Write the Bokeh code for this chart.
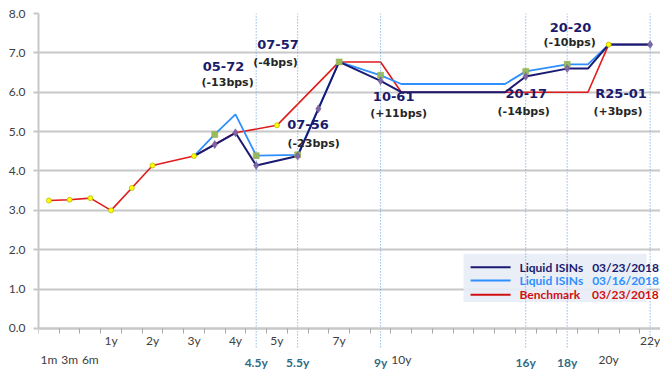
from bokeh.plotting import figure
from bokeh.models import (FixedTicker, NumeralTickFormatter, Range1d,
                          BoxAnnotation, LinearAxis)
from bokeh.core.properties import value
from bokeh.embed import file_html
from bokeh.resources import INLINE

# ---- data -------------------------------------------------------------
tenors = ["1m", "3m", "6m", "1y", "1.5y", "2y", "2.5y", "3y", "3.5y", "4y",
          "4.5y", "5y", "5.5y", "6y", "7y", "8y", "9y", "10y", "11y", "12y",
          "13y", "14y", "15y", "16y", "17y", "18y", "19y", "20y", "21y", "22y"]

benchmark_0323 = [3.25, 3.27, 3.31, 3.00, 3.57, 4.14, None, 4.38, None, 4.97,
                  None, 5.16, None, None, 6.77, None, 6.77, 6.00, None, None,
                  None, None, None, None, None, None, 6.00, 7.21, None, 7.21]
isin_0316 = [None, None, None, None, None, None, None, 4.38, 4.93, 5.44,
             4.39, None, 4.41, None, 6.77, None, 6.43, 6.21, None, None,
             None, None, 6.21, 6.53, None, 6.71, 6.71, 7.21, None, 7.21]
isin_0323 = [None, None, None, None, None, None, None, 4.38, 4.67, 4.97,
             4.14, None, 4.38, 5.58, 6.77, None, 6.29, 6.00, None, None,
             None, None, 6.00, 6.40, None, 6.60, 6.60, 7.21, None, 7.21]

# tenors carrying a point marker on each curve
benchmark_marked = ["1m", "3m", "6m", "1y", "1.5y", "2y", "3y", "5y", "20y"]
isin_0316_marked = ["3.5y", "4.5y", "5.5y", "7y", "9y", "16y", "18y"]
isin_0323_marked = ["3.5y", "4y", "4.5y", "5.5y", "6y", "9y", "16y", "18y", "22y"]

# axis labels
labels_upper = ["1y", "2y", "3y", "4y", "5y", "7y", "22y"]
labels_lower = ["1m", "3m", "6m", "10y", "20y"]
labels_issue = ["4.5y", "5.5y", "9y", "16y", "18y"]
issue_lines = ["4.5y", "5.5y", "9y", "16y", "18y", "22y"]

isin_names = ["05-72", "07-57", "07-56", "10-61", "20-17", "20-20", "R25-01"]
bps_changes = [-13, -4, -23, 11, -14, -10, 3]

y_ticks = [0, 1, 2, 3, 4, 5, 6, 7, 8]

series_names = ["Liquid ISINs\u2002 03/23/2018",
                "Liquid ISINs\u2002 03/16/2018",
                "Benchmark\u2002\u00a0 03/23/2018"]

# ---- helpers ----------------------------------------------------------
idx = {t: i for i, t in enumerate(tenors)}


def path(values):
    xs = [i for i, v in enumerate(values) if v is not None]
    return xs, [values[i] for i in xs]


def marks(values, marked):
    xs = [idx[t] for t in marked]
    return xs, [values[i] for i in xs]


NAVY = "#1a1a72"
SKY = "#2f8fff"
RED = "#e01b1b"
GRID = "#c8c8c8"
TEXT = "#404040"
TEAL = "#2f6b85"

# the frame runs to the bottom edge so the tenor labels sit inside it;
# the category axes are pinned at 0
p = figure(width=660, height=373, output_backend="svg", toolbar_location=None,
           x_range=Range1d(-0.5, 29.5), y_range=Range1d(-1.143, 8),
           x_axis_location=None,
           min_border_left=38, min_border_right=0, min_border_top=13,
           min_border_bottom=0)
p.outline_line_color = None
p.background_fill_color = "white"
p.border_fill_color = "white"

# y axis
p.yaxis.ticker = FixedTicker(ticks=y_ticks)
p.yaxis.bounds = (0, 8)
p.yaxis.formatter = NumeralTickFormatter(format="0.0")
p.yaxis.major_label_text_font = "Lato"
p.yaxis.major_label_text_font_size = "12px"
p.yaxis.major_label_text_color = TEXT
p.yaxis.major_label_standoff = 8
p.yaxis.axis_line_color = GRID
p.yaxis.axis_line_width = 2
p.yaxis.major_tick_in = 0
p.yaxis.major_tick_out = 5
p.yaxis.major_tick_line_color = GRID
p.yaxis.major_tick_line_width = 2
p.yaxis.minor_tick_line_color = None

p.xgrid.grid_line_color = None
p.ygrid.grid_line_color = GRID
p.ygrid.grid_line_width = 2
p.ygrid.ticker = FixedTicker(ticks=y_ticks)

# category axis line with tick marks between categories (no labels)
boundaries = [i - 0.5 for i in range(len(tenors) + 1)]
tick_axis = LinearAxis(fixed_location=0, ticker=FixedTicker(ticks=boundaries),
                       axis_line_color=GRID, axis_line_width=2,
                       major_tick_in=0, major_tick_out=5,
                       major_tick_line_color="#a8a8a8", major_tick_line_width=1,
                       minor_tick_line_color=None,
                       major_label_text_color=None)
p.add_layout(tick_axis, "below")


def category_axis(names, standoff, color, bold=False):
    ticks = [idx[t] for t in names]
    ax = LinearAxis(fixed_location=0, ticker=FixedTicker(ticks=ticks),
                    major_label_overrides={k: t for k, t in zip(ticks, names)},
                    major_label_standoff=standoff,
                    major_label_text_font="Lato",
                    major_label_text_font_size="12px",
                    major_label_text_font_style="bold" if bold else "normal",
                    major_label_text_color=color,
                    major_tick_in=0, major_tick_out=0,
                    major_tick_line_color=None, minor_tick_line_color=None,
                    axis_line_color=None)
    p.add_layout(ax, "below")


category_axis(labels_upper, 5, TEXT)
category_axis(labels_lower, 24, TEXT)
category_axis(labels_issue, 27, TEAL, bold=True)

# legend background
p.add_layout(BoxAnnotation(left=20.0, right=28.83, bottom=0.67, top=1.9,
                           fill_color="#e8edf6", fill_alpha=0.9,
                           line_color=None, level="underlay"))

# curves
bx, by = path(benchmark_0323)
p.line(bx, by, line_color=RED, line_width=1.6)
sx, sy = path(isin_0316)
p.line(sx, sy, line_color=SKY, line_width=1.8)
nx, ny = path(isin_0323)
p.line(nx, ny, line_color=NAVY, line_width=2)

gx, gy = marks(isin_0316, isin_0316_marked)
p.scatter(gx, gy, marker="square", size=6, fill_color="#9bbb59",
          line_color="#8aa84c", line_width=0.5)
px_, py_ = marks(isin_0323, isin_0323_marked)
p.scatter(px_, py_, marker="diamond", size=8, fill_color="#8064a2",
          line_color="#6f5690", line_width=0.5)
yx, yy = marks(benchmark_0323, benchmark_marked)
p.scatter(yx, yy, marker="circle", size=5, fill_color="#ffff00",
          line_color="#b0b000", line_width=0.7)

# issue maturities: dotted verticals running down to their labels
lx = [idx[t] for t in issue_lines]
p.segment(x0=lx, y0=[-0.48] * len(lx), x1=lx, y1=[8.0] * len(lx),
          line_color="#5b9bd5", line_width=1, line_dash="1 2")

# ISIN callouts (name above, weekly change below)
name_pos = [(8.42, 6.65), (11.05, 7.20), (12.50, 5.18), (16.63, 5.89),
            (23.03, 5.96), (25.16, 7.65), (27.60, 5.96)]
bps_pos = [(8.62, 6.26), (10.93, 6.76), (12.77, 4.71), (16.87, 5.47),
           (22.90, 5.51), (25.12, 7.26), (27.45, 5.51)]

p.text(x=[q[0] for q in name_pos], y=[q[1] for q in name_pos], text=isin_names,
       text_align="center", text_baseline="middle",
       text_font=value("DejaVu Sans"), text_font_size="13px",
       text_font_style="bold", text_color="#1b1b6b")
p.text(x=[q[0] for q in bps_pos], y=[q[1] for q in bps_pos],
       text=[f"({v:+d}bps)" for v in bps_changes],
       text_align="center", text_baseline="middle",
       text_font=value("DejaVu Sans"), text_font_size="11px",
       text_font_style="bold", text_color="#262626")

# legend
leg_y = [1.557, 1.219, 0.856]
leg_colors = [NAVY, SKY, "#d01010"]
p.segment(x0=[20.34] * 3, y0=leg_y, x1=[22.27] * 3, y1=leg_y,
          line_color=leg_colors, line_width=2)
p.text(x=[22.7] * 3, y=leg_y, text=series_names, text_align="left",
       text_baseline="middle", text_font=value("Lato"),
       text_font_size="12px", text_font_style="bold", text_color=leg_colors)

open("out.html", "w").write(file_html(p, INLINE))
